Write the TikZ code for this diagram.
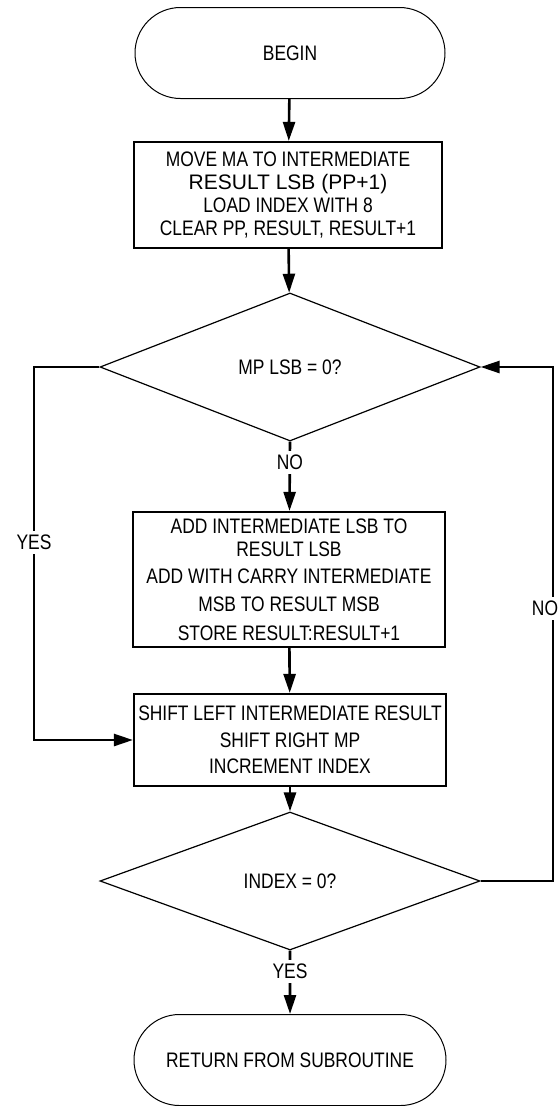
\documentclass[tikz,border=0pt]{standalone}
\usepackage{fontspec}
\setmainfont[FakeStretch=0.83]{Liberation Sans}
\newfontfamily\widefont{Liberation Sans}
\usetikzlibrary{arrows.meta,shapes.geometric,shapes.misc}
\begin{document}
\begin{tikzpicture}[x=1pt, y=-1pt, font=\fontsize{21}{22.7}\selectfont, line join=miter, >={Triangle[length=19pt,width=12pt]},
	term/.style={draw, line width=1pt, rounded rectangle, minimum width=310pt, minimum height=91pt, inner sep=0pt},
	box/.style={draw, line width=2.2pt, align=center, inner sep=0pt},
	test/.style={draw, line width=1.2pt, diamond, minimum width=380pt, minimum height=148pt, inner sep=0pt},
	flow/.style={->, line width=2.6pt},
	tag/.style={fill=white, inner sep=4pt}]
		\useasboundingbox (0,0) rectangle (558,1106);
		\def\xl{34} \def\xr{553}
		\node[term] (begin) at (290,53) {BEGIN};
		\node[box, minimum width=308pt, minimum height=106pt] (init) at (288,195) {MOVE MA TO INTERMEDIATE\\{\widefont RESULT LSB (PP+1)}\\LOAD INDEX WITH 8\\CLEAR PP, RESULT, RESULT+1};
		\node[test] (lsb) at (290,367) {MP LSB = 0?};
		\node[box, minimum width=312pt, minimum height=135pt] (add) at (289,579.5) {ADD INTERMEDIATE LSB TO\\RESULT LSB\\[5pt]ADD WITH CARRY INTERMEDIATE\\[5pt]MSB TO RESULT MSB\\[6pt]STORE RESULT:RESULT+1};
		\node[box, minimum width=312pt, minimum height=92pt] (shift) at (290,740) {SHIFT LEFT INTERMEDIATE RESULT\\[4pt]SHIFT RIGHT MP\\[4pt]INCREMENT INDEX};
		\node[test, minimum height=138pt] (idx) at (290,881) {INDEX = 0?};
		\node[term, minimum width=312pt] (ret) at (290,1060) {RETURN FROM SUBROUTINE};
		\coordinate (left) at (\xl,0);
		\coordinate (right) at (\xr,0);
		\draw[flow] (begin) -- (init);
		\draw[flow] (init) -- (lsb);
		\draw[flow] (lsb.south) -- node[tag, pos=.3]{NO} (add);
		\draw[flow] (add) -- (shift);
		\draw[flow] (shift) -- (idx);
		\draw[flow] (idx.south) -- node[tag, pos=.33]{YES} (ret);
		\draw[flow] (lsb.west) -- (left |- lsb.west) -- node[tag, pos=.47]{YES} (left |- shift.west) -- (shift.west);
		\draw[flow] (idx.east) -- (right |- idx.east) -- node[tag, pos=.53, xshift=-8pt]{NO} (right |- lsb.east) -- (lsb.east);
	\end{tikzpicture}
\end{document}
